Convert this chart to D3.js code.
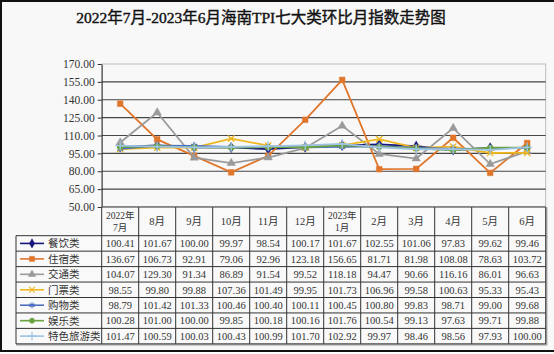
<!DOCTYPE html>
<html>
<head>
<meta charset="utf-8">
<script src="https://cdn.jsdelivr.net/npm/d3@7"></script>
<style>
  html, body { margin: 0; padding: 0; background: #fff; }
  svg { display: block; }
</style>
</head>
<body>
<script>
const width = 554;
const height = 354;

const months = ['2022年|7月', '8月', '9月', '10月', '11月', '12月', '2023年|1月', '2月', '3月', '4月', '5月', '6月'];
const seriesNames = ['餐饮类', '住宿类', '交通类', '门票类', '购物类', '娱乐类', '特色旅游类'];
const canyin   = [100.41, 101.67, 100.00, 99.97, 98.54, 100.17, 101.67, 102.55, 101.06, 97.83, 99.62, 99.46];
const zhusu    = [136.67, 106.73, 92.91, 79.06, 92.96, 123.18, 156.65, 81.71, 81.98, 108.08, 78.63, 103.72];
const jiaotong = [104.07, 129.30, 91.34, 86.89, 91.54, 99.52, 118.18, 94.47, 90.66, 116.16, 86.01, 96.63];
const menpiao  = [98.55, 99.80, 99.88, 107.36, 101.49, 99.95, 101.73, 106.96, 99.58, 100.63, 95.33, 95.43];
const gouwu    = [98.79, 101.42, 101.33, 100.46, 100.40, 100.11, 100.45, 100.80, 99.83, 98.71, 99.00, 99.68];
const yule     = [100.28, 101.00, 100.00, 99.85, 100.18, 100.16, 101.76, 100.54, 99.13, 97.63, 99.71, 99.88];
const tese     = [101.47, 100.59, 100.03, 100.43, 100.99, 101.70, 102.92, 99.97, 98.46, 98.56, 97.93, 100.00];
const yTicks = [50, 65, 80, 95, 110, 125, 140, 155, 170];

const seriesValues = [canyin, zhusu, jiaotong, menpiao, gouwu, yule, tese];
const colors = ['#16167c', '#e0762b', '#9a9a9a', '#efb71f', '#4a6fc0', '#6aa343', '#9ec3e4'];
const symbols = [d3.symbolDiamond, d3.symbolSquare, d3.symbolTriangle, d3.symbolX, d3.symbolAsterisk, d3.symbolCircle, d3.symbolPlus];
const filled = [true, true, true, false, false, true, false];
const symSize = [30, 32, 30, 28, 30, 26, 34];

const series = seriesNames.map((name, i) => ({name: name, values: seriesValues[i], color: colors[i], i: i}));

const serif = '"Liberation Serif", "Noto Sans CJK SC", serif';

const plotLeft = 101.7, plotRight = 545.7, plotTop = 64, plotBottom = 207;
const tableLeft = 16;
const headerBottom = 235.7;
const rowH = 15.45;

const x = d3.scaleBand().domain(months).range([plotLeft, plotRight]);
const y = d3.scaleLinear().domain([50, 170]).range([plotBottom, plotTop]);

const svg = d3.select('body').append('svg')
  .attr('width', width)
  .attr('height', height);

// background + outer frame
svg.append('rect').attr('x', 0).attr('y', 0).attr('width', width).attr('height', 352)
  .attr('fill', '#f8f8f8');
svg.append('path')
  .attr('d', `M${width},1 H1 V351 H${width}`)
  .attr('fill', 'none').attr('stroke', '#111').attr('stroke-width', 2);

// title
svg.append('text')
  .attr('x', 261).attr('y', 23)
  .attr('text-anchor', 'middle')
  .style('font-family', serif)
  .style('font-size', '15.5px')
  .attr('fill', '#111')
  .attr('stroke', '#111')
  .attr('stroke-width', 0.4)
  .text('2022年7月-2023年6月海南TPI七大类环比月指数走势图');

// plot frame
svg.append('rect')
  .attr('x', plotLeft).attr('y', plotTop)
  .attr('width', plotRight - plotLeft).attr('height', plotBottom - plotTop)
  .attr('fill', 'none').attr('stroke', '#bdbdbd');

// gridlines
svg.append('g').attr('class', 'grid')
  .selectAll('line')
  .data(yTicks.filter(t => t > 50 && t < 170))
  .enter().append('line')
  .attr('x1', plotLeft).attr('x2', plotRight)
  .attr('y1', d => y(d)).attr('y2', d => y(d))
  .attr('stroke', '#454545').attr('stroke-width', 1.2);

// y axis
const yAxis = svg.append('g')
  .attr('transform', `translate(${plotLeft},0)`)
  .call(d3.axisLeft(y).tickValues(yTicks).tickFormat(d3.format('.2f')).tickSizeInner(4).tickSizeOuter(0));
yAxis.select('.domain').attr('stroke', '#333');
yAxis.selectAll('.tick line').attr('stroke', '#333');
yAxis.selectAll('.tick text')
  .attr('x', -7)
  .style('font-family', serif)
  .style('font-size', '11.5px')
  .attr('fill', '#333');

// lines
const line = d3.line()
  .x((d, i) => x(months[i]) + x.bandwidth() / 2)
  .y(d => y(d));

const gSeries = svg.append('g').attr('class', 'series')
  .selectAll('g')
  .data(series)
  .enter().append('g');

gSeries.append('path')
  .attr('d', d => line(d.values))
  .attr('fill', 'none')
  .attr('stroke', d => d.color)
  .attr('stroke-width', 1.8);

gSeries.each(function (s) {
  const sym = d3.symbol().type(symbols[s.i]).size(symSize[s.i]);
  d3.select(this).selectAll('path.mark')
    .data(s.values)
    .enter().append('path')
    .attr('class', 'mark')
    .attr('transform', (d, i) => `translate(${x(months[i]) + x.bandwidth() / 2},${y(d)})`)
    .attr('d', sym())
    .attr('fill', filled[s.i] ? s.color : 'none')
    .attr('stroke', s.color)
    .attr('stroke-width', filled[s.i] ? 0.5 : 1.3);
});

// data table
const table = svg.append('g').attr('class', 'table');
const tableBottom = headerBottom + rowH * seriesNames.length;

table.append('rect')
  .attr('x', tableLeft + 1).attr('y', headerBottom + 1)
  .attr('width', plotRight - tableLeft).attr('height', tableBottom - headerBottom)
  .attr('fill', 'none').attr('stroke', '#aaa').attr('stroke-width', 1.5);
table.append('rect')
  .attr('x', plotLeft + 1).attr('y', plotBottom + 1)
  .attr('width', plotRight - plotLeft).attr('height', headerBottom - plotBottom)
  .attr('fill', 'none').attr('stroke', '#aaa').attr('stroke-width', 1.5);
table.append('rect')
  .attr('x', plotLeft).attr('y', plotBottom)
  .attr('width', plotRight - plotLeft).attr('height', tableBottom - plotBottom)
  .attr('fill', '#f9f9f9');
table.append('rect')
  .attr('x', tableLeft).attr('y', headerBottom)
  .attr('width', plotLeft - tableLeft).attr('height', tableBottom - headerBottom)
  .attr('fill', '#f9f9f9');

// horizontal rules
table.append('line')
  .attr('x1', plotLeft).attr('x2', plotRight).attr('y1', plotBottom).attr('y2', plotBottom)
  .attr('stroke', '#333');
table.selectAll('line.row')
  .data(d3.range(seriesNames.length + 1))
  .enter().append('line')
  .attr('class', 'row')
  .attr('x1', tableLeft).attr('x2', plotRight)
  .attr('y1', i => headerBottom + i * rowH).attr('y2', i => headerBottom + i * rowH)
  .attr('stroke', '#333');

// vertical rules
table.selectAll('line.col')
  .data(months.concat(['end']))
  .enter().append('line')
  .attr('class', 'col')
  .attr('x1', d => d === 'end' ? plotRight : x(d)).attr('x2', d => d === 'end' ? plotRight : x(d))
  .attr('y1', plotBottom).attr('y2', tableBottom)
  .attr('stroke', '#333');
table.append('line')
  .attr('x1', tableLeft).attr('x2', tableLeft)
  .attr('y1', headerBottom).attr('y2', tableBottom)
  .attr('stroke', '#333');

// header
const head = table.selectAll('text.head')
  .data(months)
  .enter().append('text')
  .attr('class', 'head')
  .attr('text-anchor', 'middle')
  .style('font-family', serif)
  .attr('fill', '#333');
head.each(function (m) {
  const parts = m.split('|');
  const t = d3.select(this);
  const cx = x(m) + x.bandwidth() / 2;
  if (parts.length === 1) {
    t.attr('x', cx).attr('y', (plotBottom + headerBottom) / 2 + 4)
      .style('font-size', '10.5px').text(m);
  } else {
    t.style('font-size', '9.5px');
    parts.forEach((p, k) => {
      t.append('tspan').attr('x', cx).attr('y', plotBottom + 12 + k * 12).text(p);
    });
  }
});

// rows
const rows = table.selectAll('g.trow')
  .data(series)
  .enter().append('g')
  .attr('class', 'trow')
  .attr('transform', (d, i) => `translate(0,${headerBottom + i * rowH})`);

rows.selectAll('text.val')
  .data(d => d.values)
  .enter().append('text')
  .attr('class', 'val')
  .attr('x', (d, i) => x(months[i]) + x.bandwidth() / 2)
  .attr('y', rowH / 2 + 3.8)
  .attr('text-anchor', 'middle')
  .style('font-family', serif)
  .style('font-size', '10.5px')
  .attr('fill', '#333')
  .text(d => d3.format('.2f')(d));

// legend keys
rows.append('line')
  .attr('x1', 20).attr('x2', 44)
  .attr('y1', rowH / 2).attr('y2', rowH / 2)
  .attr('stroke', d => d.color).attr('stroke-width', 1.6);
rows.append('path')
  .attr('transform', `translate(32,${rowH / 2})`)
  .attr('d', d => d3.symbol().type(symbols[d.i]).size(symSize[d.i] * 0.8)())
  .attr('fill', d => filled[d.i] ? d.color : 'none')
  .attr('stroke', d => d.color)
  .attr('stroke-width', d => filled[d.i] ? 0.5 : 1.1);
rows.append('text')
  .attr('x', 48)
  .attr('y', rowH / 2 + 4)
  .style('font-family', serif)
  .style('font-size', '10.5px')
  .attr('fill', '#333')
  .text(d => d.name);
</script>
</body>
</html>
